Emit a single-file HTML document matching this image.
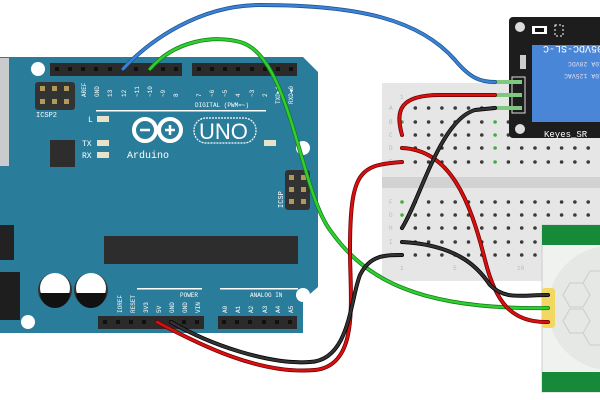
<!DOCTYPE html>
<html><head><style>html,body{margin:0;padding:0;background:#fff}svg{display:block}</style></head><body>
<svg width="600" height="400" viewBox="0 0 600 400" xmlns="http://www.w3.org/2000/svg" font-family="Liberation Mono, monospace">
<rect width="600" height="400" fill="#fff"/>
<!-- Arduino board -->
<path d="M0,57 L303,57 L318,72 L318,287 L303,300 L303,333 L0,333 Z" fill="#2a7d9a"/>
<rect x="0" y="58" width="9" height="108" fill="#c8cccd"/>
<rect x="0" y="225" width="14" height="35" fill="#222"/>
<rect x="0" y="272" width="20" height="48" fill="#1e1e1e"/>
<circle cx="38" cy="69" r="7" fill="#fff"/>
<circle cx="28" cy="322" r="7" fill="#fff"/>
<circle cx="303" cy="148" r="7" fill="#fff"/>
<circle cx="303" cy="295" r="7" fill="#fff"/>
<!-- ICSP2 -->
<rect x="35" y="82" width="40" height="28" rx="3" fill="#333"/>
<g fill="#b09a5a"><rect x="40" y="86" width="5" height="5"/><rect x="52" y="86" width="5" height="5"/><rect x="64" y="86" width="5" height="5"/><rect x="40" y="99" width="5" height="5"/><rect x="52" y="99" width="5" height="5"/><rect x="64" y="99" width="5" height="5"/></g>
<text x="36" y="117" font-size="7" fill="#fff">ICSP2</text>
<!-- top headers -->
<rect x="50" y="63" width="132" height="13" fill="#2b2b2b"/>
<rect x="192" y="63" width="105" height="13" fill="#2b2b2b"/>
<g fill="#111">
<rect x="55" y="67" width="4" height="4"/><rect x="68" y="67" width="4" height="4"/><rect x="81" y="67" width="4" height="4"/><rect x="94" y="67" width="4" height="4"/><rect x="108" y="67" width="4" height="4"/><rect x="121" y="67" width="4" height="4"/><rect x="134" y="67" width="4" height="4"/><rect x="148" y="67" width="4" height="4"/><rect x="161" y="67" width="4" height="4"/><rect x="174" y="67" width="4" height="4"/>
<rect x="197" y="67" width="4" height="4"/><rect x="210" y="67" width="4" height="4"/><rect x="223" y="67" width="4" height="4"/><rect x="236" y="67" width="4" height="4"/><rect x="250" y="67" width="4" height="4"/><rect x="263" y="67" width="4" height="4"/><rect x="276" y="67" width="4" height="4"/><rect x="289" y="67" width="4" height="4"/>
</g>
<g font-size="6" fill="#fff">
<text transform="translate(86,97) rotate(-90)">AREF</text><text transform="translate(99,97) rotate(-90)">GND</text><text transform="translate(112,97) rotate(-90)">13</text><text transform="translate(126,97) rotate(-90)">12</text><text transform="translate(139,97) rotate(-90)">~11</text><text transform="translate(152,97) rotate(-90)">~10</text><text transform="translate(165,97) rotate(-90)">~9</text><text transform="translate(178,97) rotate(-90)">8</text>
<text transform="translate(201,97) rotate(-90)">7</text><text transform="translate(214,97) rotate(-90)">~6</text><text transform="translate(227,97) rotate(-90)">~5</text><text transform="translate(240,97) rotate(-90)">4</text><text transform="translate(254,97) rotate(-90)">~3</text><text transform="translate(267,97) rotate(-90)">2</text><text transform="translate(280,104) rotate(-90)">TXD▶1</text><text transform="translate(293,104) rotate(-90)">RXD◀0</text>
<text x="195" y="107">DIGITAL (PWM=~)</text>
</g>
<rect x="96" y="110" width="170" height="1.5" fill="#fff"/>
<!-- LEDs -->
<g font-size="8" fill="#fff"><text x="88" y="122">L</text><text x="82" y="146">TX</text><text x="82" y="158">RX</text></g>
<g fill="#e8e2c8"><rect x="97" y="116" width="12" height="6"/><rect x="97" y="140" width="12" height="6"/><rect x="97" y="152" width="12" height="6"/><rect x="264" y="140" width="12" height="6"/></g>
<rect x="50" y="140" width="25" height="27" fill="#2d2d2d"/>
<!-- logo -->
<g fill="none" stroke="#fff" stroke-width="4"><circle cx="145" cy="130" r="11"/><circle cx="170" cy="130" r="11"/></g>
<g stroke="#fff" stroke-width="2.5"><line x1="140" y1="130" x2="150" y2="130"/><line x1="165" y1="130" x2="175" y2="130"/><line x1="170" y1="125" x2="170" y2="135"/></g>
<rect x="194" y="118" width="62" height="25" rx="12" fill="none" stroke="#fff" stroke-width="1.2" stroke-dasharray="2,1"/>
<text x="199" y="139" font-family="Liberation Sans, sans-serif" font-size="22" fill="#fff">UNO</text>
<text x="127" y="158" font-size="10" fill="#fff">Arduino</text>
<!-- ICSP -->
<rect x="285" y="170" width="25" height="40" rx="3" fill="#333"/>
<g fill="#b09a5a"><rect x="289" y="175" width="5" height="5"/><rect x="301" y="175" width="5" height="5"/><rect x="289" y="187" width="5" height="5"/><rect x="301" y="187" width="5" height="5"/><rect x="289" y="199" width="5" height="5"/><rect x="301" y="199" width="5" height="5"/></g>
<text transform="translate(283,208) rotate(-90)" font-size="7" fill="#fff">ICSP</text>
<!-- chip -->
<rect x="104" y="236" width="194" height="28" fill="#2d2d2d"/>
<!-- caps -->
<circle cx="55" cy="290" r="17" fill="#333"/><circle cx="55" cy="288" r="15" fill="#fff"/><path d="M40,293 A15,15 0 0,0 70,293 Z" fill="#111"/>
<circle cx="91" cy="290" r="17" fill="#333"/><circle cx="91" cy="288" r="15" fill="#fff"/><path d="M76,293 A15,15 0 0,0 106,293 Z" fill="#111"/>
<!-- bottom headers -->
<rect x="98" y="316" width="106" height="13" fill="#2b2b2b"/>
<rect x="218" y="316" width="79" height="13" fill="#2b2b2b"/>
<g fill="#111"><rect x="103" y="320" width="4" height="4"/><rect x="116" y="320" width="4" height="4"/><rect x="129" y="320" width="4" height="4"/><rect x="142" y="320" width="4" height="4"/><rect x="182" y="320" width="4" height="4"/><rect x="195" y="320" width="4" height="4"/>
<rect x="222" y="320" width="4" height="4"/><rect x="235" y="320" width="4" height="4"/><rect x="248" y="320" width="4" height="4"/><rect x="262" y="320" width="4" height="4"/><rect x="275" y="320" width="4" height="4"/><rect x="288" y="320" width="4" height="4"/></g>
<rect x="137" y="288" width="65" height="1.5" fill="#fff"/><rect x="220" y="288" width="78" height="1.5" fill="#fff"/>
<g font-size="6" fill="#fff"><text x="180" y="297">POWER</text><text x="250" y="297">ANALOG IN</text>
<text transform="translate(122,313) rotate(-90)">IOREF</text><text transform="translate(135,313) rotate(-90)">RESET</text><text transform="translate(148,313) rotate(-90)">3V3</text><text transform="translate(161,313) rotate(-90)">5V</text><text transform="translate(174,313) rotate(-90)">GND</text><text transform="translate(187,313) rotate(-90)">GND</text><text transform="translate(200,313) rotate(-90)">VIN</text>
<text transform="translate(227,313) rotate(-90)">A0</text><text transform="translate(240,313) rotate(-90)">A1</text><text transform="translate(253,313) rotate(-90)">A2</text><text transform="translate(267,313) rotate(-90)">A3</text><text transform="translate(280,313) rotate(-90)">A4</text><text transform="translate(293,313) rotate(-90)">A5</text></g>
<!-- breadboard -->
<rect x="382" y="83" width="218" height="198" fill="#e6e6e6"/>
<rect x="382" y="177" width="218" height="11" fill="#d2d2d2"/>
<g id="holes" fill="#3a3a3a"></g>
<g font-size="6" fill="#bbb"><text x="389" y="110">A</text><text x="389" y="124">B</text><text x="389" y="137">C</text><text x="389" y="150">D</text><text x="389" y="164">E</text><text x="389" y="204">F</text><text x="389" y="217">G</text><text x="389" y="230">H</text><text x="389" y="244">I</text><text x="389" y="257">J</text><text x="400" y="99">1</text><text x="400" y="270">1</text><text x="453" y="270">5</text><text x="517" y="270">10</text></g>
<!-- relay -->
<rect x="509" y="17" width="95" height="121" rx="4" fill="#1d1d1d"/>
<circle cx="520" cy="27" r="5" fill="#ddd"/><circle cx="520" cy="129" r="5" fill="#ddd"/>
<rect x="532" y="45" width="70" height="77" fill="#4a86d8"/>
<rect x="532" y="26" width="15" height="8" fill="#fff"/><rect x="535" y="28" width="9" height="4" fill="#111"/>
<rect x="555" y="25" width="8" height="11" fill="none" stroke="#fff" stroke-dasharray="2,2"/>
<rect x="520" y="55" width="6" height="14" fill="#ccc"/>
<text transform="translate(603,46) rotate(180)" font-size="10" fill="#fff">05VDC-SL-C</text>
<text transform="translate(603,62) rotate(180)" font-size="6.5" fill="#dde">10A 28VDC</text>
<text transform="translate(603,74) rotate(180)" font-size="6.5" fill="#dde">10A 125VAC</text>
<text x="544" y="137" font-size="9" fill="#fff">Keyes_SR</text>
<rect x="512" y="77" width="13" height="36" fill="none" stroke="#ddd" stroke-width="1"/>
<g stroke="#7fc87f" stroke-width="4"><line x1="492" y1="82" x2="522" y2="82"/><line x1="492" y1="95" x2="522" y2="95"/><line x1="492" y1="108" x2="522" y2="108"/></g>
<!-- PIR -->
<rect x="542" y="225" width="60" height="167" fill="#f0f2f0" stroke="#ccc"/>
<rect x="542" y="225" width="60" height="20" fill="#178a3a"/>
<rect x="542" y="372" width="60" height="20" fill="#178a3a"/>
<circle cx="610" cy="308" r="62" fill="#e6e8e6"/>
<g fill="none" stroke="#ccc"><path d="M563,295 l7,-12 h13 l7,12 l-7,12 h-13z"/><path d="M563,321 l7,-12 h13 l7,12 l-7,12 h-13z"/><path d="M583,283 l7,-12 h13"/><path d="M583,333 l7,12 h13"/></g>
<rect x="542" y="288" width="13" height="40" rx="3" fill="#f2d860"/>
<!-- wires -->
<g fill="none" stroke-linecap="round">
<path d="M123,69 C150,40 200,5 260,5 C360,5 420,20 455,60 C470,78 480,82 495,82" stroke="#1a4f8a" stroke-width="4"/>
<path d="M123,69 C150,40 200,5 260,5 C360,5 420,20 455,60 C470,78 480,82 495,82" stroke="#3b82d6" stroke-width="2.5"/>
<path d="M150,69 C175,40 215,35 240,42 C290,55 300,190 330,230 C365,280 420,310 548,308" stroke="#167a1a" stroke-width="4"/>
<path d="M150,69 C175,40 215,35 240,42 C290,55 300,190 330,230 C365,280 420,310 548,308" stroke="#2fcf2f" stroke-width="2.5"/>
<path d="M157,322 C200,345 260,375 315,370 C360,365 350,300 350,250 C350,170 360,165 402,162" stroke="#6a0000" stroke-width="4"/>
<path d="M157,322 C200,345 260,375 315,370 C360,365 350,300 350,250 C350,170 360,165 402,162" stroke="#d91010" stroke-width="2.5"/>
<path d="M171,322 C210,345 270,365 310,362 C350,360 350,300 360,275 C370,255 385,255 402,255" stroke="#000" stroke-width="4"/>
<path d="M171,322 C210,345 270,365 310,362 C350,360 350,300 360,275 C370,255 385,255 402,255" stroke="#333" stroke-width="2.5"/>
<path d="M402,135 C395,110 400,95 440,95 L495,95" stroke="#6a0000" stroke-width="4"/>
<path d="M402,135 C395,110 400,95 440,95 L495,95" stroke="#d91010" stroke-width="2.5"/>
<path d="M402,148 C450,150 470,200 485,260 C495,300 510,323 548,322" stroke="#6a0000" stroke-width="4"/>
<path d="M402,148 C450,150 470,200 485,260 C495,300 510,323 548,322" stroke="#d91010" stroke-width="2.5"/>
<path d="M402,228 C420,200 440,120 475,110 L495,108" stroke="#000" stroke-width="4"/>
<path d="M402,228 C420,200 440,120 475,110 L495,108" stroke="#333" stroke-width="2.5"/>
<path d="M402,242 C460,245 480,270 490,285 C505,300 520,295 548,295" stroke="#000" stroke-width="4"/>
<path d="M402,242 C460,245 480,270 490,285 C505,300 520,295 548,295" stroke="#333" stroke-width="2.5"/>
</g>
</svg>
<script>
(function(){
var g=document.getElementById('holes');var ns='http://www.w3.org/2000/svg';
var rows=[108,122,135,148,162,202,215,228,242,255];
for(var r=0;r<rows.length;r++){for(var c=0;c<15;c++){var x=402+c*13.3;var e=document.createElementNS(ns,'circle');e.setAttribute('cx',x);e.setAttribute('cy',rows[r]);e.setAttribute('r',1.8);
var green=(c==0)||(c==7&&r>=1&&r<=4);
e.setAttribute('fill',green?'#3fb03f':'#3a3a3a');g.appendChild(e);}}
})();
</script>
</body></html>
